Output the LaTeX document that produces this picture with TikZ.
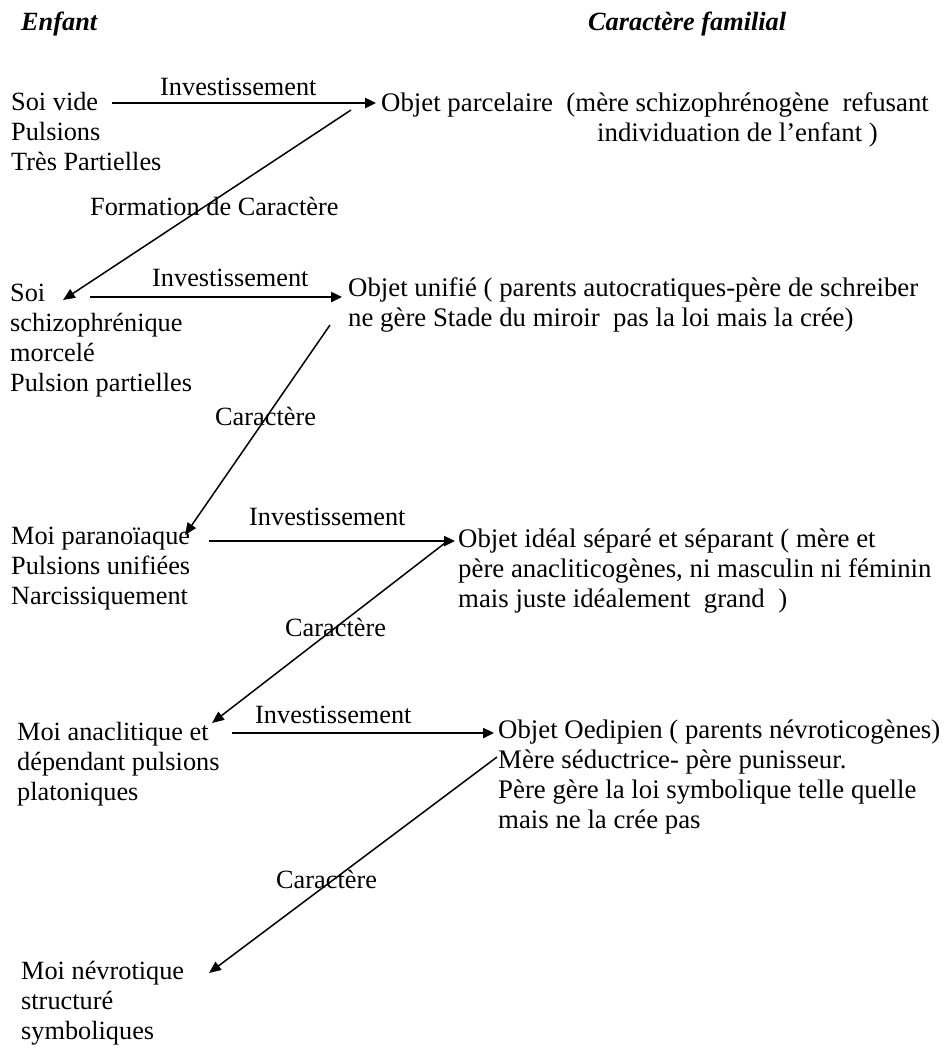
\documentclass[tikz,border=0pt]{standalone}
\usepackage{fontspec}
\setmainfont{Liberation Serif}
\usetikzlibrary{arrows.meta}

\begin{document}
\begin{tikzpicture}[x=1pt, y=-1pt,
    txt/.style={anchor=north west, inner sep=0pt, align=left,
        font=\fontsize{26.3}{30}\selectfont, execute at begin node=\strut},
    objtxt/.style={txt, font=\fontsize{26.8}{30}\selectfont},
    lbl/.style={anchor=base west, inner sep=0pt, font=\fontsize{26.3}{30}\selectfont},
    head/.style={lbl, font=\fontsize{26.3}{30}\selectfont\bfseries\itshape},
    inv/.style={line width=2.4pt, -{Triangle[length=11pt,width=10pt]}},
    car/.style={line width=1.5pt, -{Triangle[length=12pt,width=10pt]}}]
    \useasboundingbox (0,0) rectangle (948,1050);
    % titres
    \node[head] (enfant) at (21,30) {Enfant};
    \node[head] (famille) at (588,30) {Caractère familial};
    % enfant
    \node[txt] (soivide) at (11,92) {Soi vide\\Pulsions\\Très Partielles};
    \node[txt] (soi) at (10,284) {Soi\\schizophrénique\\morcelé\\Pulsion partielles};
    \node[txt] (moipara) at (11,527) {Moi paranoïaque\\Pulsions unifiées\\Narcissiquement};
    \node[txt] (moiana) at (17,722) {Moi anaclitique et\\dépendant pulsions\\platoniques};
    \node[txt] (moinev) at (21,961) {Moi névrotique\\structuré\\symboliques};
    % objets
    \node[objtxt] (objA) at (381,92) {Objet parcelaire\ \ (mère schizophrénogène\ \ refusant\\\hspace*{216pt}individuation de l’enfant )};
    \node[objtxt] (objB) at (348,277) {Objet unifié ( parents autocratiques-père de schreiber\\ne gère Stade du miroir\ \ pas la loi mais la crée)};
    \node[objtxt] (objC) at (458,529) {Objet idéal séparé et séparant ( mère et\\père anacliticogènes, ni masculin ni féminin\\mais juste idéalement\ \ grand\ \ )};
    \node[objtxt] (objD) at (498,720) {Objet Oedipien ( parents névroticogènes)\\Mère séductrice- père punisseur.\\Père gère la loi symbolique telle quelle\\mais ne la crée pas};
    % etiquettes
    \node[lbl] (inv1) at (160,95) {Investissement};
    \node[lbl] (inv2) at (152,286) {Investissement};
    \node[lbl] (inv3) at (249,525) {Investissement};
    \node[lbl] (inv4) at (255,723) {Investissement};
    \node[lbl] (form) at (90,215) {Formation de Caractère};
    \node[lbl] (car1) at (215,425) {Caractère};
    \node[lbl] (car2) at (285,636) {Caractère};
    \node[lbl] (car3) at (276,888) {Caractère};
    % investissements
    \draw[inv] ([shift={(101,11)}]soivide.north west) -- ([shift={(-5,11)}]objA.north west);
    \draw[inv] ([shift={(80,13)}]soi.north west) -- ([shift={(-6,20)}]objB.north west);
    \draw[inv] ([shift={(198,14)}]moipara.north west) -- ([shift={(-3,12)}]objC.north west);
    \draw[inv] ([shift={(215,11)}]moiana.north west) -- ([shift={(-4,13)}]objD.north west);
    % caracteres
    \draw[car] ([shift={(-30,18)}]objA.north west) -- ([shift={(53,16)}]soi.north west);
    \draw[car] ([shift={(-18,48)}]objB.north west) -- ([shift={(174,8)}]moipara.north west);
    \draw[car] ([shift={(-13,14)}]objC.north west) -- ([shift={(195,1)}]moiana.north west);
    \draw[car] ([shift={(-1,37)}]objD.north west) -- ([shift={(188,12)}]moinev.north west);
\end{tikzpicture}
\end{document}
